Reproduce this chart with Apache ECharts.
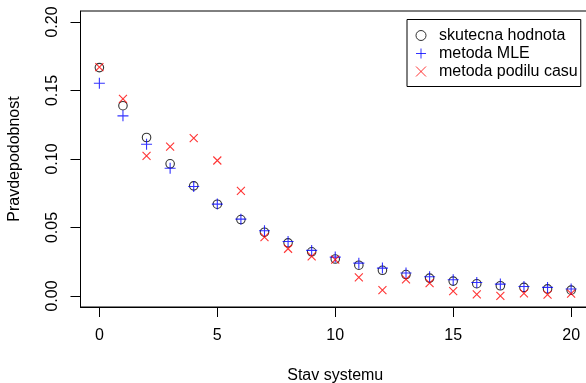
<!DOCTYPE html>
<html>
<head>
<meta charset="utf-8">
<style>
  html, body { margin: 0; padding: 0; background: #fff; }
  #chart { width: 586px; height: 383px; }
</style>
<script src="https://cdn.jsdelivr.net/npm/echarts@6/dist/echarts.min.js"></script>
</head>
<body>
<div id="chart"></div>
<script>
const states = [0, 1, 2, 3, 4, 5, 6, 7, 8, 9, 10, 11, 12, 13, 14, 15, 16, 17, 18, 19, 20]
const trueValues = [0.1667, 0.1389, 0.1157, 0.0965, 0.0804, 0.0670, 0.0558, 0.0466, 0.0388, 0.0323,
  0.0270, 0.0225, 0.0188, 0.0157, 0.0131, 0.0109, 0.0090, 0.0075, 0.0063, 0.0052, 0.0043]
const mleValues = [0.1553, 0.1315, 0.1108, 0.0933, 0.0799, 0.0671, 0.0561, 0.0476, 0.0398, 0.0333,
  0.0284, 0.0240, 0.0204, 0.0168, 0.0141, 0.0119, 0.0099, 0.0087, 0.0070, 0.0063, 0.0051]
const timeShareValues = [0.1670, 0.1439, 0.1023, 0.1091, 0.1152, 0.0989, 0.0768, 0.0430, 0.0345, 0.0289,
  0.0265, 0.0136, 0.0043, 0.0122, 0.0095, 0.0036, 0.0012, 0.0001, 0.0020, 0.0010, 0.0017]
const xTicks = [0, 5, 10, 15, 20]
const yTicks = [0, 0.05, 0.1, 0.15, 0.2]

const seriesNames = ['skutecna hodnota', 'metoda MLE', 'metoda podilu casu']
const plusPath = 'path://M5,0L5,10M0,5L10,5'
const crossPath = 'path://M0,0L10,10M10,0L0,10'
const font = '"Liberation Sans", Arial, Helvetica, sans-serif'

const pairs = (vals) => states.map((s, i) => [s, vals[i]])

const chart = echarts.init(document.getElementById('chart'), null, { renderer: 'canvas' })
chart.setOption({
  animation: false,
  backgroundColor: '#fff',
  textStyle: { fontFamily: font },
  grid: {
    left: 80.5, top: 11, width: 509.5, bottom: 76,
    outerBoundsMode: 'none', containLabel: false,
    show: true, borderColor: '#000', borderWidth: 1, backgroundColor: 'transparent',
  },
  legend: {
    orient: 'vertical',
    left: 407, top: 19.5,
    padding: [7, 3, 6, 8.5],
    itemWidth: 10, itemHeight: 10, itemGap: 0,
    backgroundColor: '#fff', borderColor: '#000', borderWidth: 1, borderRadius: 0,
    textStyle: { color: '#000', fontSize: 16, lineHeight: 18, fontFamily: font, padding: [0, 0, 0, 8] },
    data: [
      { name: seriesNames[0], icon: 'circle', itemStyle: { color: 'transparent', borderColor: '#000', borderWidth: 1 } },
      { name: seriesNames[1], icon: plusPath, itemStyle: { color: 'transparent', borderColor: '#0000ff', borderWidth: 1 } },
      { name: seriesNames[2], icon: crossPath, itemStyle: { color: 'transparent', borderColor: '#ff0000', borderWidth: 1 } },
    ],
  },
  xAxis: {
    type: 'value', min: -0.8, max: 20.8,
    name: 'Stav systemu', nameLocation: 'middle', nameGap: 61,
    nameTextStyle: { color: '#000', fontSize: 16, fontFamily: font },
    axisLine: { onZero: false, lineStyle: { color: '#000', width: 1 } },
    axisTick: { show: true, inside: false, length: 10, customValues: xTicks, lineStyle: { color: '#000' } },
    axisLabel: { color: '#000', fontSize: 16, margin: 21, customValues: xTicks, formatter: (v) => String(v) },
    splitLine: { show: false },
  },
  yAxis: {
    type: 'value', min: -0.008, max: 0.208,
    name: 'Pravdepodobnost', nameLocation: 'middle', nameGap: 58, nameRotate: 90,
    nameTextStyle: { color: '#000', fontSize: 16, fontFamily: font },
    axisLine: { onZero: false, lineStyle: { color: '#000', width: 1 } },
    axisTick: { show: true, inside: false, length: 10, customValues: yTicks, lineStyle: { color: '#000' } },
    axisLabel: { color: '#000', fontSize: 16, margin: 20, rotate: 90, customValues: yTicks, formatter: (v) => v.toFixed(2) },
    splitLine: { show: false },
  },
  series: [
    {
      name: seriesNames[0], type: 'scatter', symbol: 'circle', symbolSize: 8.5,
      itemStyle: { color: 'transparent', borderColor: '#000', borderWidth: 1.1 },
      data: pairs(trueValues),
    },
    {
      name: seriesNames[1], type: 'scatter', symbol: plusPath, symbolSize: 11,
      itemStyle: { color: 'transparent', borderColor: '#0000ff', borderWidth: 1.1 },
      data: pairs(mleValues),
    },
    {
      name: seriesNames[2], type: 'scatter', symbol: crossPath, symbolSize: 8,
      itemStyle: { color: 'transparent', borderColor: '#ff0000', borderWidth: 1.1 },
      data: pairs(timeShareValues),
    },
  ],
})
</script>
</body>
</html>
